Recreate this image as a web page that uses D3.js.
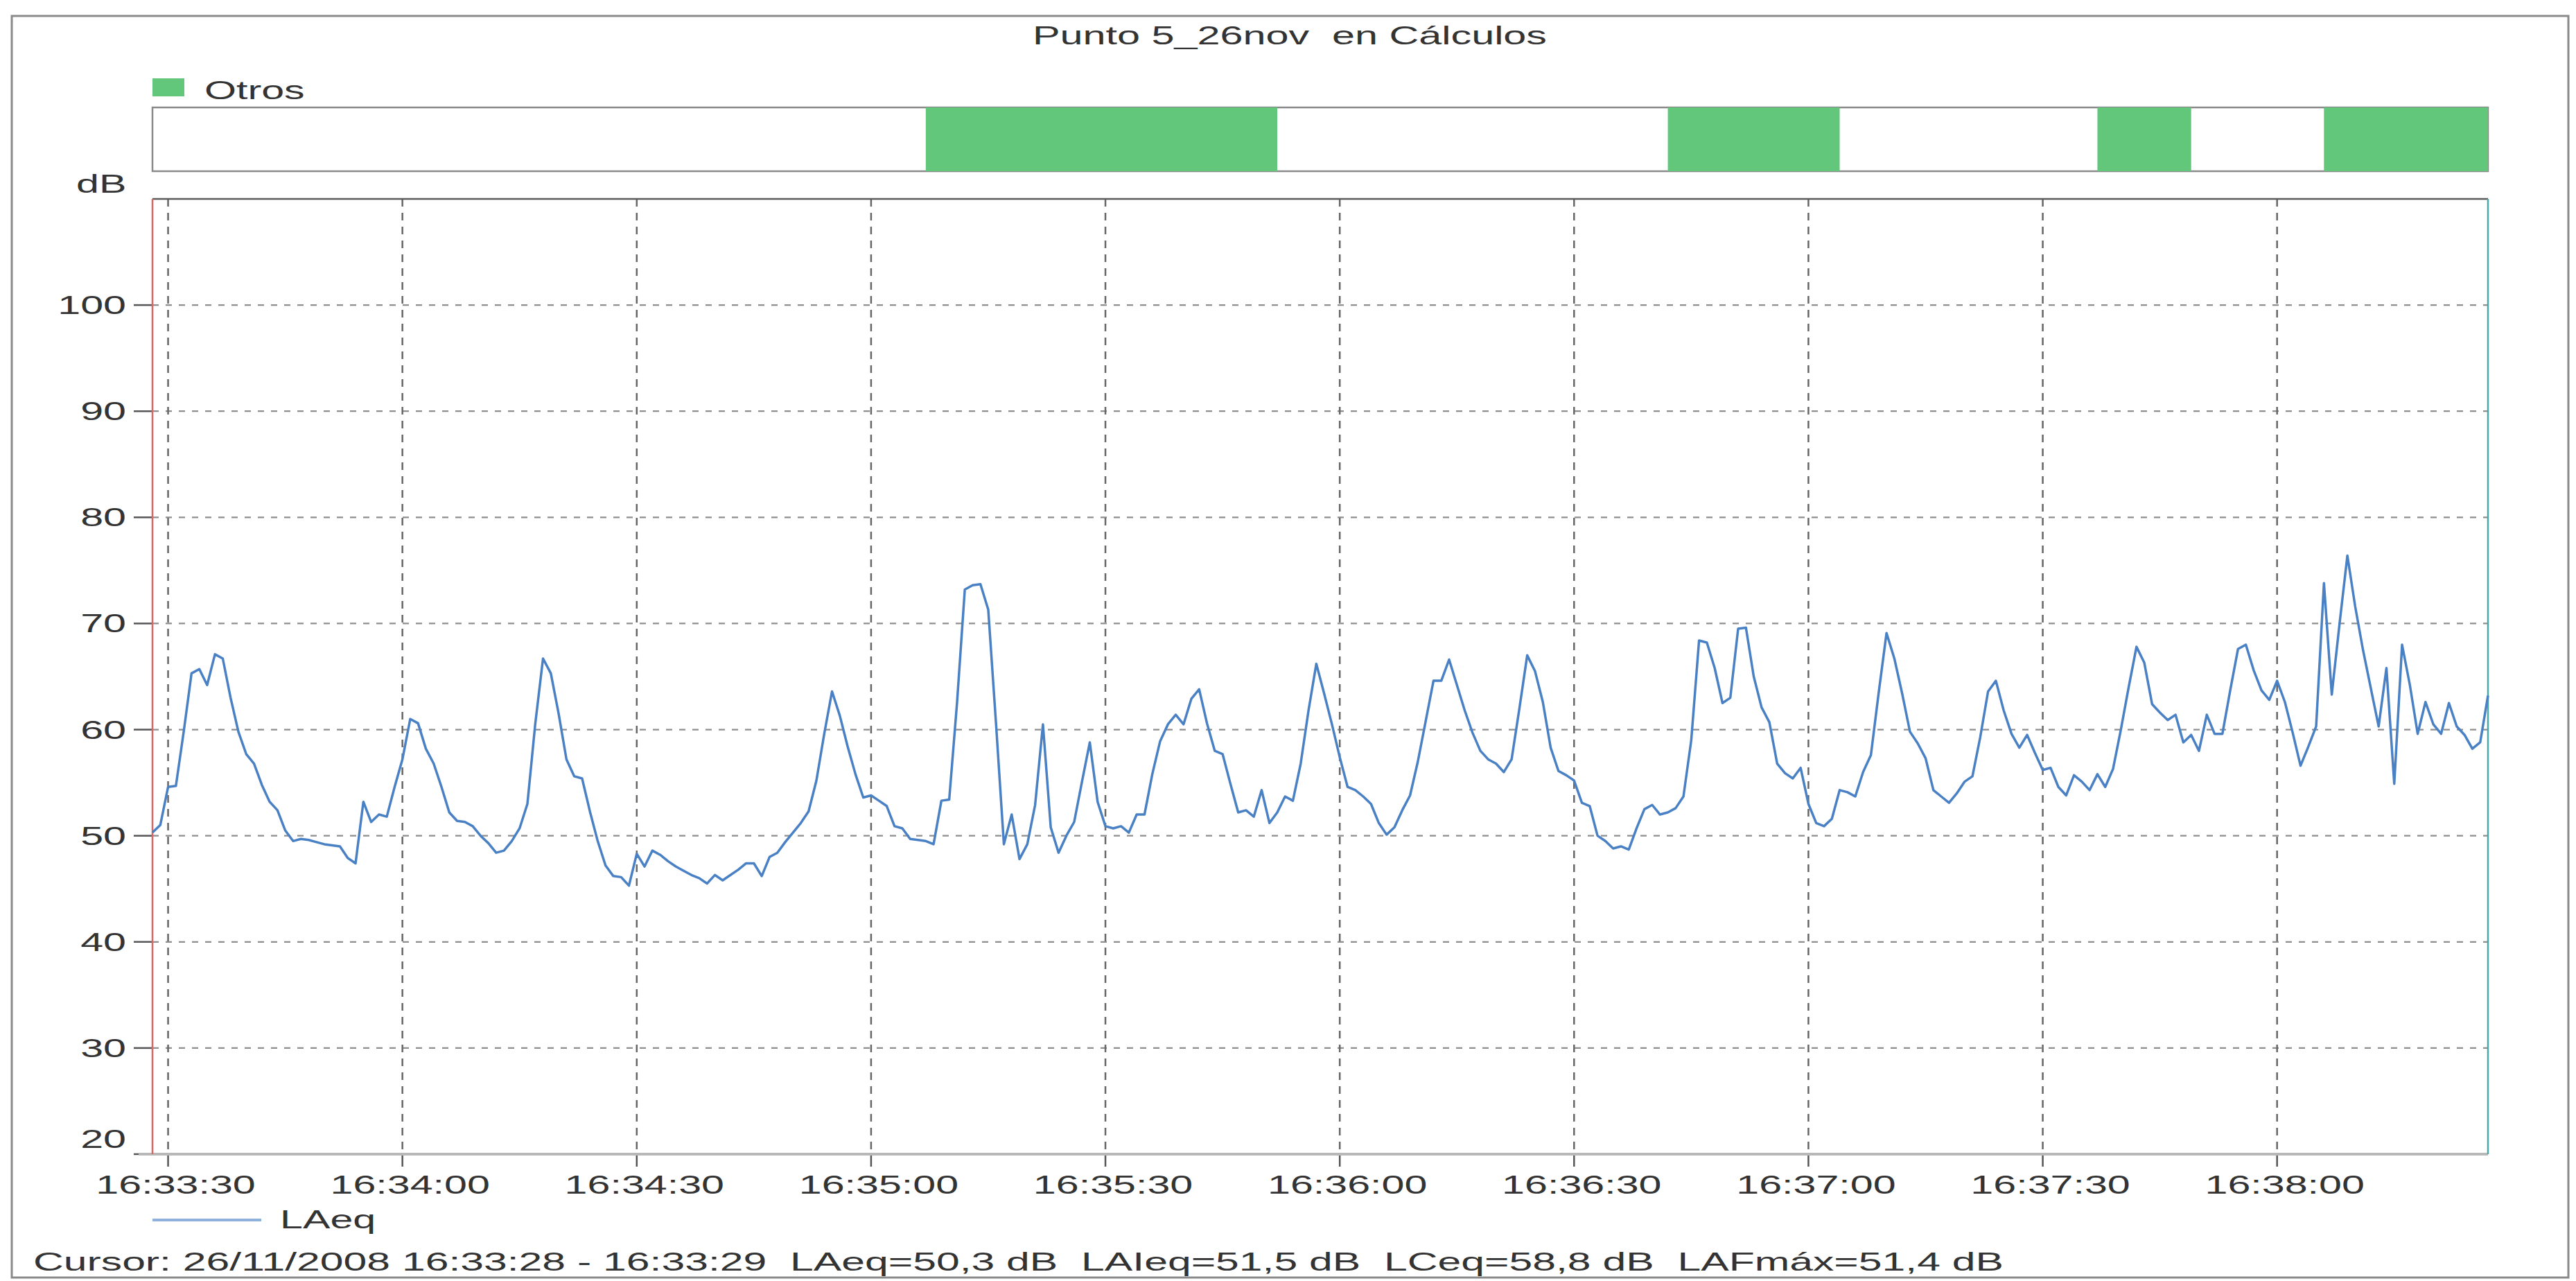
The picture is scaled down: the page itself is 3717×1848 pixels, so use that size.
<!DOCTYPE html>
<html>
<head>
<meta charset="utf-8">
<script src="https://cdn.jsdelivr.net/npm/d3@7"></script>
<style>
  html, body { margin: 0; padding: 0; background: #fff; }
  svg { display: block; }
  text { font-family: "Liberation Sans", Arial, sans-serif; fill: #333; }
</style>
</head>
<body>
<svg id="chart" width="3717" height="1848"></svg>
<script>
// ---- data -------------------------------------------------------------
const chartTitle = "Punto 5_26nov  en Cálculos";
const sessionDate = "2008-11-26";
const firstSample = "16:33:28";          // one LAeq value per second from here
const seriesName = "LAeq";
const bandName = "Otros";

// LAeq, dB, one value per second (16:33:28 ... 16:38:27)
const laeq = [
  50.3, 51.0, 54.6, 54.7, 59.8, 65.3, 65.7, 64.2, 67.1, 66.7,
  63.0, 59.8, 57.7, 56.8, 54.8, 53.2, 52.4, 50.5, 49.5, 49.7,
  49.6, 49.4, 49.2, 49.1, 49.0, 47.9, 47.4, 53.2, 51.3, 52.0,
  51.8, 54.6, 57.2, 61.0, 60.6, 58.2, 56.8, 54.6, 52.2, 51.4,
  51.3, 50.9, 50.0, 49.3, 48.4, 48.6, 49.5, 50.7, 53.0, 60.5,
  66.7, 65.3, 61.5, 57.2, 55.6, 55.4, 52.3, 49.5, 47.2, 46.2,
  46.1, 45.3, 48.3, 47.1, 48.6, 48.2, 47.6, 47.1, 46.7, 46.3,
  46.0, 45.5, 46.3, 45.8, 46.3, 46.8, 47.4, 47.4, 46.2, 48.0,
  48.4, 49.4, 50.3, 51.2, 52.3, 55.2, 59.6, 63.6, 61.3, 58.4,
  55.8, 53.6, 53.8, 53.3, 52.8, 50.9, 50.7, 49.7, 49.6, 49.5,
  49.2, 53.3, 53.4, 62.5, 73.2, 73.6, 73.7, 71.3, 60.5, 49.2,
  52.0, 47.8, 49.2, 52.9, 60.5, 50.8, 48.4, 50.0, 51.3, 55.1,
  58.8, 53.2, 50.9, 50.7, 50.9, 50.3, 52.0, 52.0, 55.8, 58.9,
  60.5, 61.4, 60.5, 62.9, 63.8, 60.6, 58.0, 57.7, 54.9, 52.2,
  52.4, 51.8, 54.3, 51.2, 52.2, 53.7, 53.3, 56.8, 61.8, 66.2,
  63.4, 60.5, 57.4, 54.6, 54.3, 53.7, 53.0, 51.2, 50.1, 50.8,
  52.4, 53.8, 57.0, 60.8, 64.6, 64.6, 66.6, 64.2, 61.8, 59.7,
  58.0, 57.2, 56.8, 56.0, 57.2, 62.0, 67.0, 65.5, 62.6, 58.3,
  56.1, 55.7, 55.2, 53.1, 52.8, 50.0, 49.5, 48.8, 49.0, 48.7,
  50.7, 52.5, 52.9, 52.0, 52.2, 52.6, 53.7, 59.0, 68.4, 68.2,
  65.8, 62.5, 63.0, 69.5, 69.6, 65.0, 62.1, 60.7, 56.8, 55.9,
  55.4, 56.4, 53.0, 51.2, 50.9, 51.6, 54.3, 54.1, 53.7, 56.0,
  57.6, 63.5, 69.1, 66.7, 63.4, 59.8, 58.7, 57.3, 54.3, 53.7,
  53.1, 54.0, 55.1, 55.6, 59.3, 63.6, 64.6, 61.8, 59.6, 58.3,
  59.5, 57.8, 56.2, 56.4, 54.6, 53.8, 55.7, 55.1, 54.3, 55.8,
  54.6, 56.3, 60.0, 64.0, 67.8, 66.3, 62.4, 61.6, 60.9, 61.4,
  58.8, 59.5, 58.0, 61.4, 59.6, 59.6, 63.7, 67.6, 68.0, 65.6,
  63.7, 62.8, 64.6, 62.6, 59.7, 56.6, 58.4, 60.3, 73.8, 63.3,
  70.0, 76.4, 71.6, 67.5, 63.9, 60.3, 65.8, 54.9, 68.0, 64.2,
  59.6, 62.6, 60.5, 59.6, 62.5, 60.3, 59.5, 58.2, 58.8, 63.2
];

// periods flagged as "Otros" (start, end)
const otrosPeriods = [
  ["16:35:07", "16:35:52"],
  ["16:36:42", "16:37:04"],
  ["16:37:37", "16:37:49"],
  ["16:38:06", "16:38:27"]
];

const dbTicks = [20, 30, 40, 50, 60, 70, 80, 90, 100];
const timeTicks = ["16:33:30", "16:34:00", "16:34:30", "16:35:00", "16:35:30",
                   "16:36:00", "16:36:30", "16:37:00", "16:37:30", "16:38:00"];
const cursorText = "Cursor: 26/11/2008 16:33:28 - 16:33:29  LAeq=50,3 dB  LAIeq=51,5 dB  LCeq=58,8 dB  LAFmáx=51,4 dB";

// ---- layout -----------------------------------------------------------
const plot = { left: 220, right: 3590, top: 287, bottom: 1665 };
const band = { top: 155, bottom: 247 };
const FONT = 37;      // text size
const SX = 1.6;       // horizontal stretch of the lettering
const green = "#63c77b";
const lineBlue = "#4a80c4";

const parse = d3.timeParse("%Y-%m-%d %H:%M:%S");
const at = s => parse(sessionDate + " " + s);
const t0 = at(firstSample);
const points = laeq.map((v, i) => ({ time: d3.timeSecond.offset(t0, i), v }));

const x = d3.scaleTime()
  .domain([t0, points[points.length - 1].time])
  .range([plot.left, plot.right]);
const y = d3.scaleLinear().domain([20, 110]).range([plot.bottom, plot.top]);

const svg = d3.select("#chart");

function label(parent, px, py, str, anchor) {
  return parent.append("text")
    .attr("transform", `translate(${px},${py}) scale(${SX},1)`)
    .attr("text-anchor", anchor || "start")
    .attr("font-size", FONT)
    .style("white-space", "pre")
    .text(str);
}

// outer frame
svg.append("rect")
  .attr("x", 17).attr("y", 23).attr("width", 3689).attr("height", 1820)
  .attr("fill", "none").attr("stroke", "#8a8a8a").attr("stroke-width", 3);

// title
svg.append("text")
  .attr("x", 1861).attr("y", 64)
  .attr("text-anchor", "middle")
  .attr("font-size", FONT)
  .attr("textLength", 742).attr("lengthAdjust", "spacingAndGlyphs")
  .style("white-space", "pre")
  .text(chartTitle);

// band legend
svg.append("rect").attr("x", 220).attr("y", 113).attr("width", 46).attr("height", 26)
  .attr("fill", green);
label(svg, 295, 143, bandName);

// band strip
const bandG = svg.append("g");
bandG.append("rect")
  .attr("x", plot.left).attr("y", band.top)
  .attr("width", plot.right - plot.left).attr("height", band.bottom - band.top)
  .attr("fill", "#fff").attr("stroke", "#8a8a8a").attr("stroke-width", 2.5);
bandG.selectAll("rect.otros").data(otrosPeriods).join("rect")
  .attr("class", "otros")
  .attr("x", d => x(at(d[0])))
  .attr("width", d => x(at(d[1])) - x(at(d[0])))
  .attr("y", band.top).attr("height", band.bottom - band.top)
  .attr("fill", green);

// y axis label
label(svg, 110, 278, "dB");

// grid
const grid = svg.append("g");
grid.selectAll("line.h").data(dbTicks.filter(v => v > 20)).join("line")
  .attr("class", "h")
  .attr("x1", plot.left).attr("x2", plot.right)
  .attr("y1", d => y(d)).attr("y2", d => y(d))
  .attr("stroke", "#8e8e8e").attr("stroke-width", 2.2)
  .attr("stroke-dasharray", "9,10");
const tickTimes = timeTicks.map(at);
grid.selectAll("line.v").data(tickTimes).join("line")
  .attr("class", "v")
  .attr("x1", d => x(d)).attr("x2", d => x(d))
  .attr("y1", plot.top).attr("y2", plot.bottom)
  .attr("stroke", "#666").attr("stroke-width", 2.5)
  .attr("stroke-dasharray", "11,9");

// y ticks and labels
const yAxis = svg.append("g");
yAxis.selectAll("line").data(dbTicks).join("line")
  .attr("x1", 193).attr("x2", plot.left)
  .attr("y1", d => y(d)).attr("y2", d => y(d))
  .attr("stroke", "#555").attr("stroke-width", 2.5);
dbTicks.forEach(v => {
  const py = v === 20 ? y(v) - 22 + 13 : y(v) + 13;
  label(yAxis, 182, py, String(v), "end");
});

// x ticks and labels
const fmt = d3.timeFormat("%H:%M:%S");
const xAxis = svg.append("g");
xAxis.selectAll("line").data(tickTimes).join("line")
  .attr("x1", d => x(d)).attr("x2", d => x(d))
  .attr("y1", plot.bottom).attr("y2", plot.bottom + 18)
  .attr("stroke", "#555").attr("stroke-width", 2.5);
tickTimes.forEach(t => label(xAxis, x(t) + 11, 1722, fmt(t), "middle"));

// plot borders
svg.append("line").attr("x1", plot.left).attr("x2", plot.right)
  .attr("y1", plot.top).attr("y2", plot.top)
  .attr("stroke", "#5a5a5a").attr("stroke-width", 2.5);
svg.append("line").attr("x1", plot.left - 20).attr("x2", plot.right)
  .attr("y1", plot.bottom).attr("y2", plot.bottom)
  .attr("stroke", "#b8b8b8").attr("stroke-width", 4);
svg.append("line").attr("x1", plot.right).attr("x2", plot.right)
  .attr("y1", plot.top).attr("y2", plot.bottom)
  .attr("stroke", "#4aa8a8").attr("stroke-width", 2.5);

// cursor marker at the first sample
svg.append("line").attr("x1", x(t0)).attr("x2", x(t0))
  .attr("y1", plot.top).attr("y2", plot.bottom)
  .attr("stroke", "#e06464").attr("stroke-width", 2.5);

// LAeq trace
svg.append("path")
  .datum(points)
  .attr("fill", "none")
  .attr("stroke", lineBlue)
  .attr("stroke-width", 3.5)
  .attr("stroke-linejoin", "round")
  .attr("d", d3.line().x(d => x(d.time)).y(d => y(d.v)));

// series legend
svg.append("line").attr("x1", 220).attr("x2", 377).attr("y1", 1760).attr("y2", 1760)
  .attr("stroke", "#8db3dd").attr("stroke-width", 4);
label(svg, 404, 1772, seriesName);

// cursor readout
svg.append("text")
  .attr("x", 48).attr("y", 1833)
  .attr("font-size", FONT)
  .attr("textLength", 2843).attr("lengthAdjust", "spacingAndGlyphs")
  .style("white-space", "pre")
  .text(cursorText);
</script>
</body>
</html>
